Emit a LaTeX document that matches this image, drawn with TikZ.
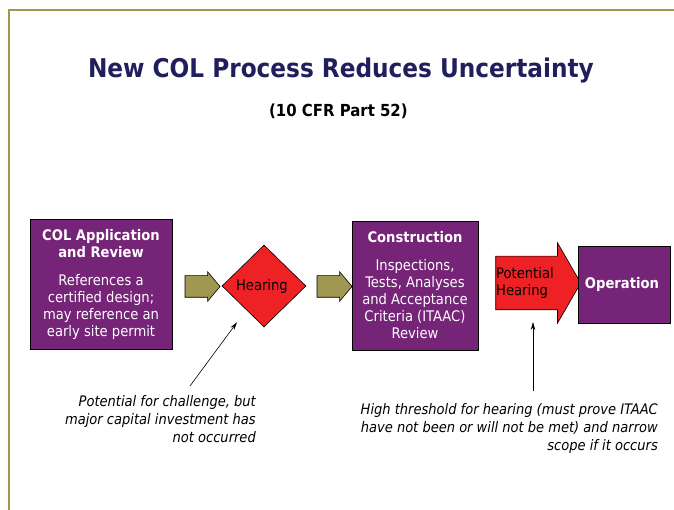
\documentclass[tikz,border=0pt]{standalone}
\usepackage{fontspec}
\setmainfont{DejaVu Sans Condensed}
\usetikzlibrary{shapes.geometric, shapes.arrows, arrows.meta}

\definecolor{colpurple}{RGB}{118,36,120}
\definecolor{colred}{RGB}{238,34,36}
\definecolor{cololive}{RGB}{160,152,80}
\definecolor{colnavy}{RGB}{32,30,92}

\begin{document}
\begin{tikzpicture}[x = 1pt, y = -1pt,
  every node/.append style = {inner sep = 0pt, align = center},
  stagebox/.style = {draw = black, line width = 0.6pt, fill = colpurple, text = white,
    font = \fontsize{14.6}{17}\selectfont},
  hearbox/.style = {diamond, draw = black, line width = 0.6pt, fill = colred,
    minimum width = 84pt, minimum height = 82pt, font = \fontsize{14.6}{17}\selectfont},
  flowarrow/.style = {single arrow, draw = black, line width = 0.6pt, fill = cololive,
    minimum height = 35pt, inner ysep = 10.5pt, inner xsep = 0pt,
    single arrow head extend = 4pt, single arrow tip angle = 100},
  note/.style = {align = right, font = \fontsize{14.5}{18}\selectfont\itshape},
  pointer/.style = {-{Stealth[length = 8pt, width = 4.5pt]}, line width = 0.6pt}]

  \useasboundingbox (0, 0) rectangle (674, 510);

  % frame
  \draw [cololive, line width = 2pt] (674, 10) -- (9, 10) -- (9, 510);

  % headings
  \node (title) [text = colnavy, font = \fontsize{25.8}{30}\selectfont\bfseries] at (345, 70)
    { New COL Process Reduces Uncertainty };
  \node (subtitle) [font = \fontsize{16.6}{20}\selectfont\bfseries] at (341, 111)
    { (10 CFR Part 52) };

  % process chain
  \node (app) [stagebox, minimum width = 142pt, minimum height = 130pt] at (101, 284)
    { \textbf{COL Application}\\\textbf{and Review}\\[11pt]
      References a\\certified design;\\may reference an\\early site permit };

  \node (arr1) [flowarrow] at (198, 286.5) {};

  \node (hear) [hearbox] at (264, 286) { Hearing };

  \node (arr2) [flowarrow] at (330, 286.5) {};

  \node (build) [stagebox, minimum width = 126pt, minimum height = 129pt] at (415, 285.5)
    { \textbf{Construction}\\[11pt]
      Inspections,\\Tests, Analyses\\and Acceptance\\Criteria (ITAAC)\\Review };

  \node (phear) [single arrow, draw = black, line width = 0.6pt, fill = colred,
    minimum height = 85pt, inner ysep = 26.5pt, inner xsep = 0pt,
    single arrow head extend = 13.5pt, single arrow tip angle = 120] at (530.5, 283) {};
  \node (phtext) [align = left, anchor = west, font = \fontsize{14.6}{17}\selectfont]
    at (496, 283) { Potential\\Hearing };

  \node (oper) [stagebox, minimum width = 92pt, minimum height = 77pt] at (624, 284.5)
    { \textbf{Operation} };

  % remarks
  \node (note1) [note, anchor = north east] at (256, 395)
    { Potential for challenge, but\\major capital investment has\\not occurred };
  \node (note2) [note, anchor = north east] at (658, 403)
    { High threshold for hearing (must prove ITAAC\\have not been or will not be met) and narrow\\scope if it occurs };

  \coordinate (tail1) at (190, 386);
  \coordinate (tail2) at (533, 391);
  \draw [pointer] (tail1) -- ([shift = {(-27, -5)}] hear.south);
  \draw [pointer] (tail2) -- ([shift = {(2.5, 39)}] phear.center);

\end{tikzpicture}
\end{document}
